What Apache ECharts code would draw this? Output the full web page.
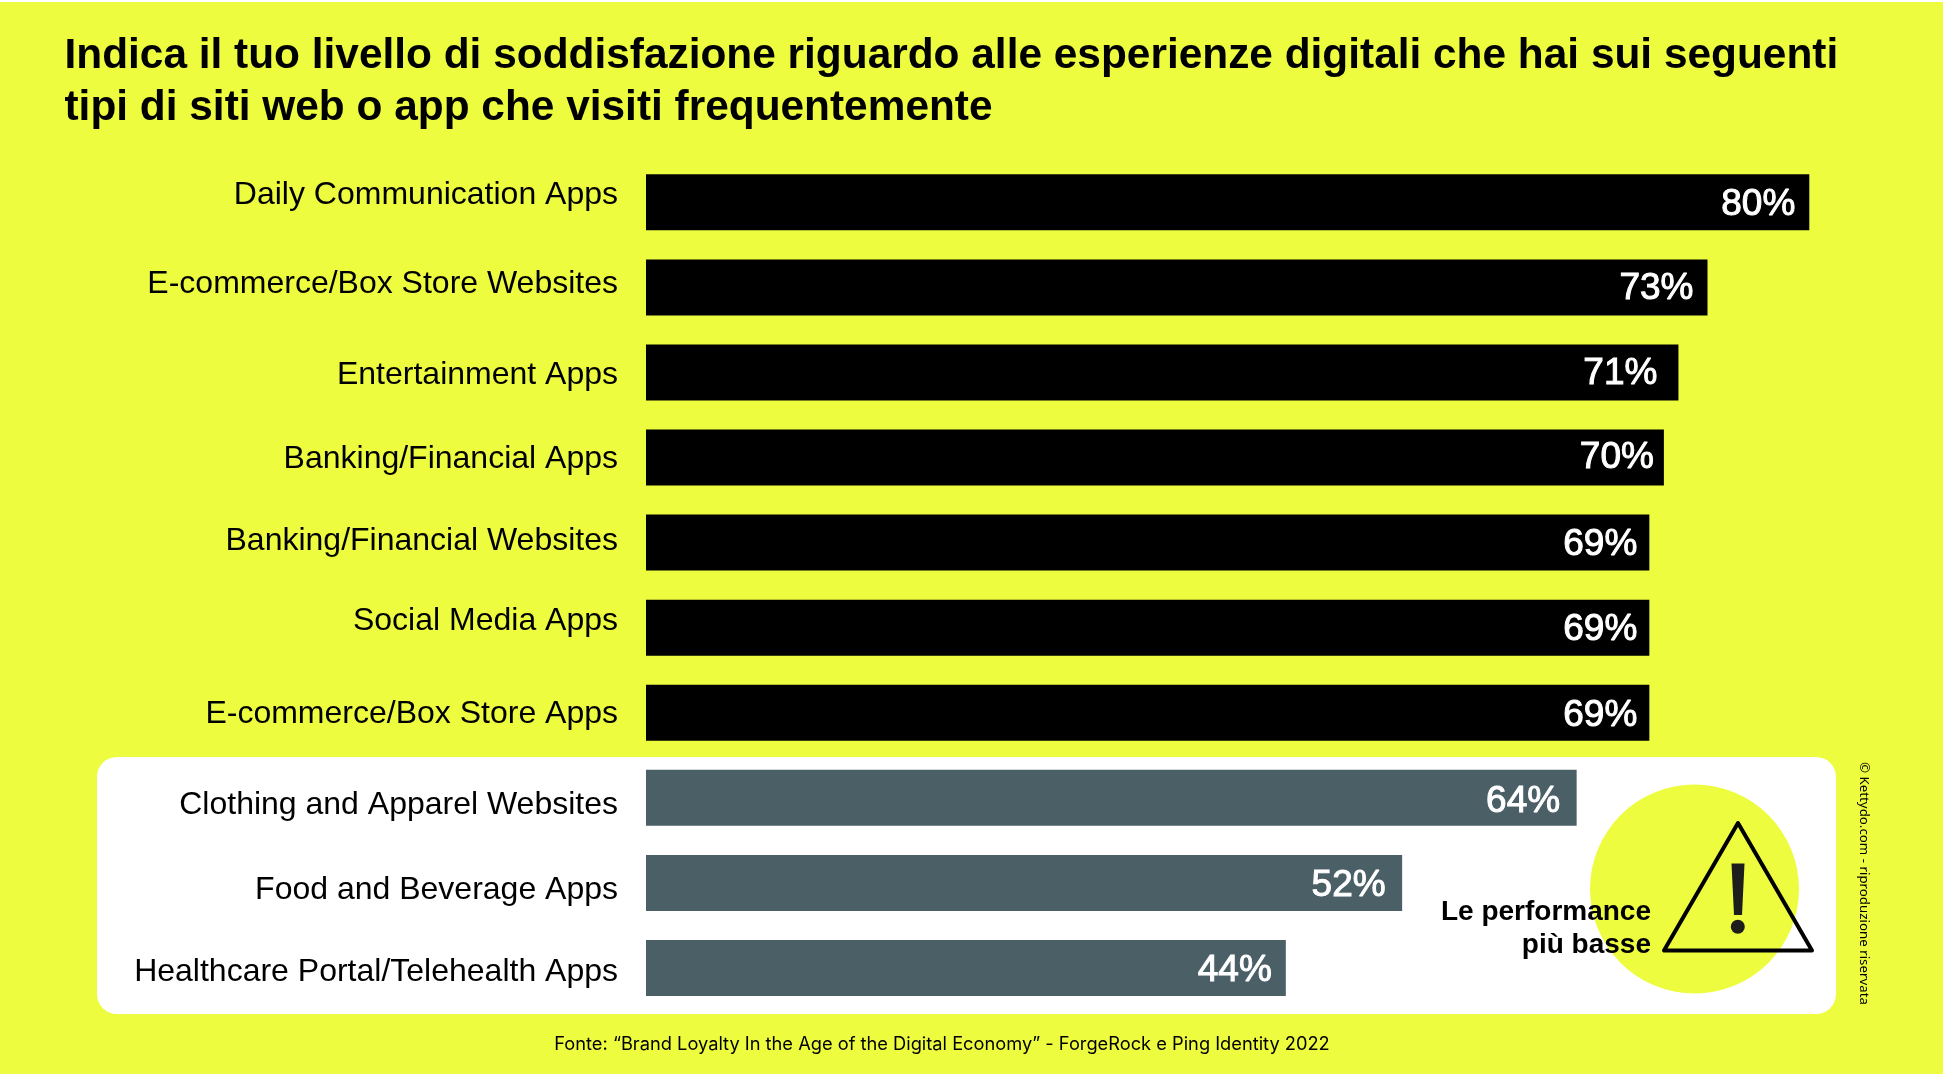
<!DOCTYPE html>
<html>

<head>
	<meta charset="UTF-8">
	<title>Soddisfazione esperienze digitali</title>
	<style type="text/css">
		html, body { margin: 0; padding: 0; background: #eefc3f; }
		#main { width: 1943px; height: 1074px; }
	</style>
	<script src="https://cdn.jsdelivr.net/npm/echarts@6/dist/echarts.min.js"></script>
</head>

<body>
	<div id="main"></div>

	<script>
		var categories = ['Daily Communication Apps', 'E-commerce/Box Store Websites', 'Entertainment Apps', 'Banking/Financial Apps', 'Banking/Financial Websites', 'Social Media Apps', 'E-commerce/Box Store Apps', 'Clothing and Apparel Websites', 'Food and Beverage Apps', 'Healthcare Portal/Telehealth Apps'];
		var values = [80, 73, 71, 70, 69, 69, 69, 64, 52, 44];
		var titleLines = ['Indica il tuo livello di soddisfazione riguardo alle esperienze digitali che hai sui seguenti', 'tipi di siti web o app che visiti frequentemente'];
		var sourceText = 'Fonte: “Brand Loyalty In the Age of the Digital Economy” - ForgeRock e Ping Identity 2022';
		var creditText = '© Kettydo.com - riproduzione riservata';
		var noteLines = ['Le performance', 'più basse'];

		var YELLOW = '#eefc3f';
		var GREY = '#4b5f66';
		var FONT = '"Liberation Sans", sans-serif';

		// the labels in the original sit a bit off the bar centres
		var labelShift = [-7.5, -3.4, 2.9, 1.4, -1.4, -6.4, 1.9, 7.7, 7.2, 4.4];
		var valueShiftX = [0, 0, -7, 4, 2, 2, 2, -2.5, -2.5, 0];
		var valueShiftY = [2, 1, 1, 0, 2, 2.5, 3, 4, 2.5, 2.5];

		var labelRich = {};
		labelShift.forEach(function (s, i) {
			labelRich['s' + i] = {
				fontFamily: FONT,
				fontSize: 32,
				color: '#000',
				padding: s < 0 ? [0, 0, -2 * s, 0] : [2 * s, 0, 0, 0]
			};
		});

		var chart = echarts.init(document.getElementById('main'));

		var option = {
			backgroundColor: YELLOW,
			animation: false,
			grid: { left: 646, top: 159.8, width: 1163.3, height: 850.7 },
			xAxis: { type: 'value', min: 0, max: 80, show: false },
			yAxis: {
				type: 'category',
				inverse: true,
				data: categories,
				axisLine: { show: false },
				axisTick: { show: false },
				axisLabel: {
					margin: 28,
					formatter: function (name, i) { return '{s' + i + '|' + name + '}'; },
					rich: labelRich
				}
			},
			series: [{
				type: 'bar',
				barWidth: 56,
				data: values.map(function (v, i) {
					return { value: v, label: { offset: [valueShiftX[i], valueShiftY[i]] } };
				}),
				itemStyle: {
					color: function (p) { return p.value < 65 ? GREY : '#000'; }
				},
				label: {
					show: true,
					position: 'insideRight',
					distance: 14,
					formatter: '{c}%',
					fontFamily: FONT,
					fontSize: 37,
					color: '#fff',
					textBorderColor: '#fff',
					textBorderWidth: 1
				}
			}],
			graphic: [
				{ type: 'rect', z: -1, shape: { x: 0, y: 0, width: 1943, height: 2 }, style: { fill: '#fff' } },
				{ type: 'rect', z: -1, shape: { x: 97, y: 757, width: 1739, height: 257, r: 20 }, style: { fill: '#fff' } },
				{ type: 'circle', z: 3, shape: { cx: 1694.5, cy: 889, r: 104.5 }, style: { fill: YELLOW } },
				{ type: 'text', z: 4, x: 1651, y: 926, style: { text: noteLines[0], align: 'right', verticalAlign: 'bottom', fill: '#000', fontFamily: FONT, fontSize: 28, fontWeight: 'bold' } },
				{ type: 'text', z: 4, x: 1651, y: 959, style: { text: noteLines[1], align: 'right', verticalAlign: 'bottom', fill: '#000', fontFamily: FONT, fontSize: 28, fontWeight: 'bold' } },
				{ type: 'polygon', z: 5, shape: { points: [[1738, 823], [1664, 950.5], [1812, 950.5]] }, style: { fill: 'none', stroke: '#000', lineWidth: 4, lineJoin: 'round' } },
				{ type: 'polygon', z: 5, shape: { points: [[1731.5, 863.5], [1744.5, 863.5], [1742, 915], [1734, 915]] }, style: { fill: '#1d1d1b' } },
				{ type: 'circle', z: 5, shape: { cx: 1737.8, cy: 926.7, r: 7 }, style: { fill: '#1d1d1b' } },
				{ type: 'text', x: 64.5, y: 56, style: { text: titleLines[0], verticalAlign: 'middle', fill: '#000', fontFamily: FONT, fontSize: 42.4, fontWeight: 'bold' } },
				{ type: 'text', x: 64.5, y: 108, style: { text: titleLines[1], verticalAlign: 'middle', fill: '#000', fontFamily: FONT, fontSize: 42.4, fontWeight: 'bold' } },
				{ type: 'text', x: 942, y: 1045, style: { text: sourceText, align: 'center', verticalAlign: 'middle', fill: '#000', fontFamily: 'Inter, sans-serif', fontSize: 18.25 } },
				{ type: 'text', x: 1864, y: 762, rotation: -Math.PI / 2, style: { text: creditText, align: 'left', verticalAlign: 'middle', fill: '#000', fontFamily: '"Noto Sans", sans-serif', fontSize: 13.3 } }
			]
		};

		chart.setOption(option);
	</script>
</body>

</html>
